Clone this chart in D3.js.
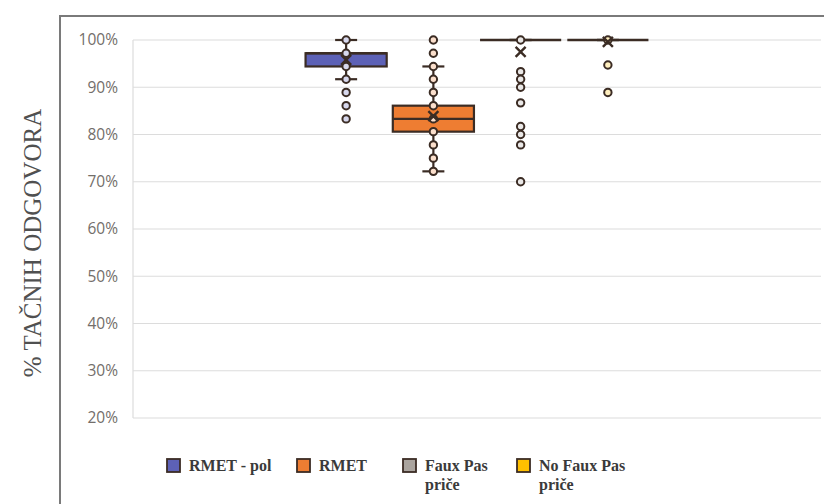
<!DOCTYPE html>
<html>
<head>
<meta charset="utf-8">
<script src="https://cdn.jsdelivr.net/npm/d3@7"></script>
<style>
  html, body { margin: 0; padding: 0; background: #fff; }
  svg { display: block; }
</style>
</head>
<body>
<svg id="chart" width="824" height="504"></svg>
<script>
// Series shown as box plots (one per test)
const seriesNames = ["RMET - pol", "RMET", "Faux Pas priče", "No Faux Pas priče"];
const legendLines = [["RMET - pol"], ["RMET"], ["Faux Pas", "priče"], ["No Faux Pas", "priče"]];
const seriesColors = ["#5d61b6", "#ee7d32", "#aaa49e", "#ffc000"];

// Five-number summaries (percent correct) and means
const whiskerLow  = [91.7, 72.2, 100, 100];
const quartile1   = [94.4, 80.6, 100, 100];
const medians     = [97.2, 83.3, 100, 100];
const quartile3   = [97.2, 86.1, 100, 100];
const whiskerHigh = [100, 94.4, 100, 100];
const means       = [95.8, 83.9, 97.5, 99.6];

// Individual points drawn along each box (inner points and outliers)
const pointsRmetPol = [100, 97.2, 94.4, 91.7, 88.9, 86.1, 83.3];
const pointsRmet    = [100, 97.2, 94.4, 91.7, 88.9, 86.1, 83.3, 80.6, 77.8, 75, 72.2];
const pointsFauxPas = [100, 93.3, 91.7, 90, 86.7, 81.7, 80, 77.8, 70];
const pointsNoFaux  = [100, 94.7, 88.9];
const seriesPoints  = [pointsRmetPol, pointsRmet, pointsFauxPas, pointsNoFaux];

const yTicks = [20, 30, 40, 50, 60, 70, 80, 90, 100];
const categories = [""];

const svg = d3.select("#chart");
const plot = { left: 133, right: 821, top: 40, bottom: 418 };

// Outer frame of the chart
svg.append("path")
  .attr("d", "M60,504 L60,16 L824,16")
  .attr("fill", "none")
  .attr("stroke", "#7a7a7a")
  .attr("stroke-width", 2);

const y = d3.scaleLinear().domain([20, 100]).range([plot.bottom, plot.top]);

const xCat = d3.scaleBand().domain(categories)
  .range([plot.left, plot.right])
  .paddingInner(0).paddingOuter(0.4857);
const xSer = d3.scaleBand().domain(seriesNames)
  .range([0, xCat.bandwidth()])
  .paddingInner(0.07).paddingOuter(0.035);

// Gridlines
svg.append("g").selectAll("line").data(yTicks).join("line")
  .attr("x1", plot.left).attr("x2", plot.right)
  .attr("y1", d => y(d)).attr("y2", d => y(d))
  .attr("stroke", "#dcdcdc").attr("stroke-width", 1.2);

// Plot area left edge
svg.append("line")
  .attr("x1", plot.left).attr("x2", plot.left)
  .attr("y1", plot.top).attr("y2", plot.bottom)
  .attr("stroke", "#dcdcdc").attr("stroke-width", 1.2);

// Y axis tick labels
const yAxis = d3.axisLeft(y).tickValues(yTicks).tickFormat(d => d + "%").tickSize(0).tickPadding(15);
const yg = svg.append("g").attr("transform", `translate(${plot.left},0)`).call(yAxis);
yg.select(".domain").remove();
yg.selectAll("text")
  .attr("font-family", "'Open Sans', sans-serif")
  .attr("font-size", 15.5)
  .attr("fill", "#736e6a");

// Y axis title
svg.append("text")
  .attr("transform", "translate(41,243) rotate(-90)")
  .attr("text-anchor", "middle")
  .attr("font-family", "'Liberation Serif', 'Times New Roman', serif")
  .attr("font-size", 25)
  .attr("fill", "#505050")
  .text("% TAČNIH ODGOVORA");

const dark = "#3b2c24";
const g = svg.append("g");

seriesNames.forEach((name, i) => {
  const x0 = xCat("") + xSer(name);
  const w = xSer.bandwidth();
  const cx = x0 + w / 2;
  const capW = 22;
  const s = g.append("g");

  // whiskers
  s.append("line").attr("x1", cx).attr("x2", cx)
    .attr("y1", y(quartile3[i])).attr("y2", y(whiskerHigh[i]))
    .attr("stroke", dark).attr("stroke-width", 2.2);
  s.append("line").attr("x1", cx).attr("x2", cx)
    .attr("y1", y(quartile1[i])).attr("y2", y(whiskerLow[i]))
    .attr("stroke", dark).attr("stroke-width", 2.2);
  [whiskerHigh[i], whiskerLow[i]].forEach(v => {
    s.append("line").attr("x1", cx - capW / 2).attr("x2", cx + capW / 2)
      .attr("y1", y(v)).attr("y2", y(v))
      .attr("stroke", dark).attr("stroke-width", 2.2);
  });

  // box
  s.append("rect")
    .attr("x", x0).attr("width", w)
    .attr("y", y(quartile3[i]))
    .attr("height", y(quartile1[i]) - y(quartile3[i]))
    .attr("fill", seriesColors[i])
    .attr("stroke", dark).attr("stroke-width", 2.2);

  // median
  s.append("line").attr("x1", x0).attr("x2", x0 + w)
    .attr("y1", y(medians[i])).attr("y2", y(medians[i]))
    .attr("stroke", dark).attr("stroke-width", 2.4);

  // points
  s.selectAll("circle").data(seriesPoints[i]).join("circle")
    .attr("cx", cx).attr("cy", d => y(d)).attr("r", 3.7)
    .attr("fill", d3.interpolateRgb("#ffffff", seriesColors[i])(0.25))
    .attr("stroke", dark).attr("stroke-width", 2);

  // mean marker
  const my = y(means[i]), m = 5;
  s.append("path")
    .attr("d", `M${cx - m},${my - m}L${cx + m},${my + m}M${cx - m},${my + m}L${cx + m},${my - m}`)
    .attr("stroke", dark).attr("stroke-width", 2.4).attr("fill", "none");
});

// Legend
const legendX = [167, 297, 403, 517];
const legend = svg.append("g");
seriesNames.forEach((name, i) => {
  const lg = legend.append("g").attr("transform", `translate(${legendX[i]},459)`);
  lg.append("rect").attr("x", 0).attr("y", 0).attr("width", 13).attr("height", 13)
    .attr("fill", seriesColors[i]).attr("stroke", dark).attr("stroke-width", 1.8);
  const t = lg.append("text")
    .attr("x", 22).attr("y", 12)
    .attr("font-family", "'Liberation Serif', 'Times New Roman', serif")
    .attr("font-weight", "bold")
    .attr("font-size", 16)
    .attr("fill", "#3a3a3a");
  legendLines[i].forEach((line, k) => {
    t.append("tspan").attr("x", 22).attr("dy", k === 0 ? 0 : 19).text(line);
  });
});
</script>
</body>
</html>
